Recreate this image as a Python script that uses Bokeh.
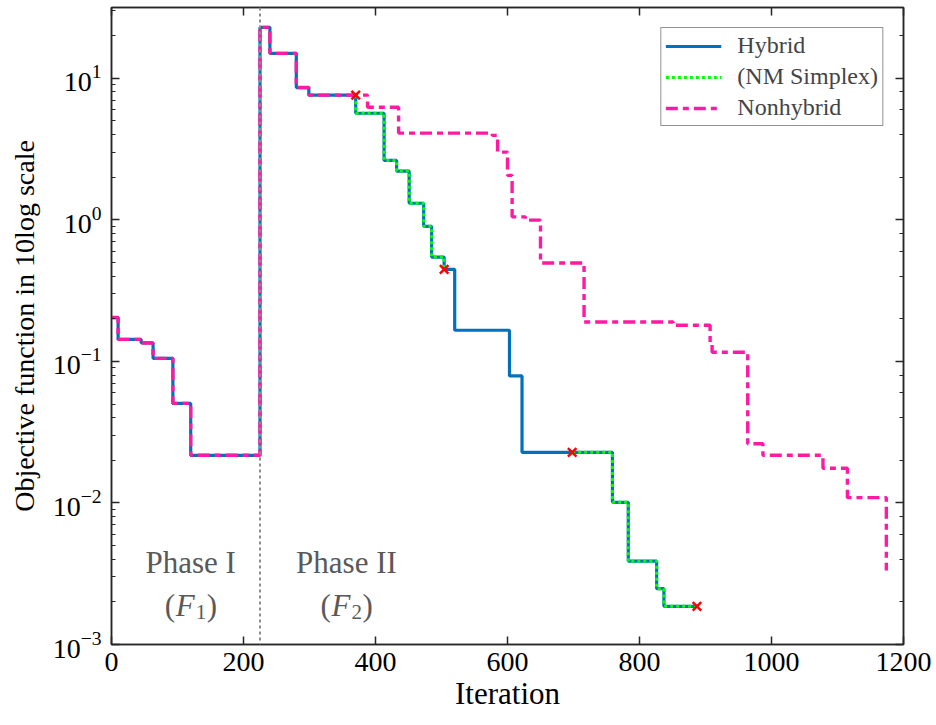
from bokeh.plotting import figure
from bokeh.models import (Span, Label, Legend, LegendItem, LinearAxis, LogAxis,
                          FixedTicker, Range1d)
from bokeh.core.properties import value
from bokeh.embed import file_html
from bokeh.resources import INLINE

# ---- data ----
iter_hybrid = [0, 10, 45, 63, 93, 120, 225, 240, 280, 299, 370, 413, 432, 451, 473,
               485, 504, 520, 603, 622, 759, 783, 826, 837, 887]
obj_hybrid = [0.204, 0.143, 0.135, 0.105, 0.0505, 0.0217, 22.9, 15.0, 8.6, 7.6, 5.66,
              2.63, 2.21, 1.31, 0.90, 0.546, 0.447, 0.166, 0.079, 0.0228, 0.0101,
              0.00388, 0.00248, 0.00186, 0.00186]

iter_nm1 = [370, 370, 413, 432, 451, 473, 485, 504]
obj_nm1 = [7.6, 5.66, 2.63, 2.21, 1.31, 0.90, 0.546, 0.447]
iter_nm2 = [698, 759, 783, 826, 837, 887]
obj_nm2 = [0.0228, 0.0101, 0.00388, 0.00248, 0.00186, 0.00186]

iter_nonhybrid = [0, 10, 45, 63, 93, 120, 225, 240, 280, 299, 388, 435, 577, 585, 600,
                  607, 627, 650, 716, 851, 907, 910, 964, 987, 1078, 1115, 1174]
obj_nonhybrid = [0.204, 0.143, 0.135, 0.105, 0.0505, 0.0217, 22.9, 15.0, 8.6, 7.6,
                 6.24, 4.1, 3.95, 3.01, 2.06, 1.05, 0.995, 0.496, 0.19, 0.18, 0.133,
                 0.116, 0.0262, 0.0217, 0.0176, 0.0109, 0.00333]

switch_iter = [370, 504, 698, 887]
switch_obj = [7.6, 0.447, 0.0228, 0.00186]

phase_boundary = 225
phase_x = [120, 356]
phase_names = ["Phase I", "Phase II"]
phase_subs = ["1", "2"]
x_ticks = [0, 200, 400, 600, 800, 1000, 1200]

FONT = "Liberation Serif"
BLUE = "#0072BD"
GREEN = "#00FF00"
PINK = "#FF1AA3"
AX = "#262626"

p = figure(width=936, height=725, y_axis_type="log", output_backend="svg",
           toolbar_location=None, x_range=Range1d(0, 1200),
           y_range=Range1d(1e-3, 10 ** 1.5),
           min_border_left=111, min_border_right=33, min_border_top=7,
           min_border_bottom=81)
p.grid.visible = False
p.outline_line_color = AX
p.outline_line_width = 1.5
p.background_fill_color = "white"
p.border_fill_color = "white"

# axes
xa = p.xaxis[0]
xa.ticker = FixedTicker(ticks=x_ticks)
xa.axis_label = "Iteration"
ya = p.yaxis[0]
ya.axis_label = "Objective function in 10log scale"
for ax in (xa, ya):
    ax.axis_label_text_font = FONT
    ax.axis_label_text_font_style = "normal"
    ax.axis_label_text_color = "black"
    ax.major_label_text_font = FONT
    ax.major_label_text_color = "black"
    ax.major_label_text_font_size = "28px"
    ax.axis_line_color = AX
    ax.axis_line_width = 1.5
    ax.major_tick_line_color = AX
    ax.major_tick_line_width = 1.5
    ax.minor_tick_line_color = AX
    ax.minor_tick_line_width = 1.2
    ax.major_tick_in = 8
    ax.major_tick_out = 0
    ax.minor_tick_in = 4
    ax.minor_tick_out = 0
xa.axis_label_text_font_size = "31px"
ya.axis_label_text_font_size = "28px"
xa.minor_tick_line_color = None
xa.major_label_standoff = 8
xa.axis_label_standoff = 2
ya.major_label_standoff = 10
ya.axis_label_standoff = 10

top = LinearAxis(ticker=FixedTicker(ticks=x_ticks))
right = LogAxis()
for ax in (top, right):
    ax.major_label_text_font_size = "0px"
    ax.major_label_text_alpha = 0
    ax.major_label_standoff = 0
    ax.axis_line_color = AX
    ax.axis_line_width = 1.5
    ax.major_tick_line_color = AX
    ax.major_tick_line_width = 1.5
    ax.minor_tick_line_color = AX
    ax.minor_tick_line_width = 1.2
    ax.major_tick_in = 8
    ax.major_tick_out = 0
    ax.minor_tick_in = 4
    ax.minor_tick_out = 0
top.minor_tick_line_color = None
p.add_layout(top, "above")
p.add_layout(right, "right")

# curves
r_h = p.step(iter_hybrid, obj_hybrid, mode="after", line_color=BLUE, line_width=3.2)
r_n1 = p.step(iter_nm1, obj_nm1, mode="after", line_color=GREEN, line_width=3,
              line_dash="3 3")
p.step(iter_nm2, obj_nm2, mode="after", line_color=GREEN, line_width=3, line_dash="3 3")
r_nh = p.step(iter_nonhybrid, obj_nonhybrid, mode="after", line_color=PINK,
              line_width=3.4, line_dash="12 5 6 5")

p.add_layout(Span(location=phase_boundary, dimension="height", line_color="#8c8c8c",
                  line_width=2, line_dash="3 3"))

p.scatter(switch_iter, switch_obj, marker="x", size=12, line_color="red", line_width=2.5)

# phase labels
p.text(x=phase_x, y=[0.0038] * 2, text=phase_names, text_font=value(FONT),
       text_font_size="31px", text_color="#595959", text_align="center",
       text_baseline="middle")
for xc, sub in zip(phase_x, phase_subs):
    yb = 0.00189
    pieces = [("(", -26, 0, "31px", "normal"), ("F", -15, 0, "31px", "italic"),
              (sub, 5, -7, "21px", "normal"), (")", 16, 0, "31px", "normal")]
    for t, dx, dy, fs, st in pieces:
        p.add_layout(Label(x=xc, y=yb, text=t, x_offset=dx, y_offset=dy,
                           text_font=FONT, text_font_size=fs, text_font_style=st,
                           text_color="#595959", text_baseline="middle",
                           text_align="left"))

legend = Legend(items=[LegendItem(label="Hybrid", renderers=[r_h]),
                       LegendItem(label="(NM Simplex)", renderers=[r_n1]),
                       LegendItem(label="Nonhybrid", renderers=[r_nh])],
                location="top_right")
legend.margin = 20
legend.padding = 4
legend.spacing = 4
legend.label_text_font = FONT
legend.label_text_font_size = "24px"
legend.label_height = 26
legend.glyph_width = 56
legend.glyph_height = 20
legend.label_standoff = 16
legend.border_line_color = AX
legend.border_line_width = 1
legend.background_fill_alpha = 1
p.add_layout(legend)

open("out.html", "w").write(file_html(p, INLINE))
